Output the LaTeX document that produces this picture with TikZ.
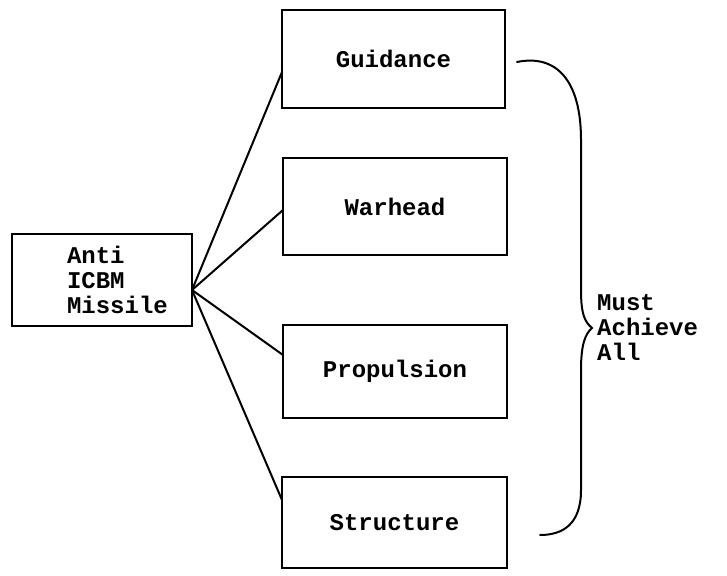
\documentclass[tikz,border=0pt]{standalone}
\usepackage{fontspec}
\setmonofont{Liberation Mono}
\newcommand\boxfont{\ttfamily\bfseries\fontsize{24}{25}\selectfont}
\tikzset{
  part/.style={draw, rectangle, line width=2pt, inner sep=0pt, font=\boxfont},
  link/.style={line width=2pt}
}
\begin{document}
\begin{tikzpicture}[x=1pt, y=-1pt]
        \useasboundingbox (0,0) rectangle (727,575);
        % the missile box
        \node[part, minimum width=180pt, minimum height=92pt, text width=70pt, align=left]
              (missile) at (102,280) {Anti\\ICBM\\Missile};
        % the four parts
        \node[part, minimum width=223pt, minimum height=98pt] (guidance)   at (393.5, 59)   {Guidance};
        \node[part, minimum width=224pt, minimum height=97pt] (warhead)    at (395,   206.5) {Warhead};
        \node[part, minimum width=224pt, minimum height=93pt] (propulsion) at (395,   371.5) {Propulsion};
        \node[part, minimum width=225pt, minimum height=91pt] (structure)  at (394.5, 522.5) {Structure};
        % coordinates where the lines meet
        \coordinate (hub)      at (192, 290);
        \coordinate (guidin)   at (282,  72);
        \coordinate (warin)    at (283, 210);
        \coordinate (propin)   at (283, 355);
        \coordinate (structin) at (282, 500);
        % drawing the lines
        \draw[link] (hub) -- (guidin);
        \draw[link] (hub) -- (warin);
        \draw[link] (hub) -- (propin);
        \draw[link] (hub) -- (structin);
        % the brace and its text
        \coordinate (bracetop) at (517, 62);
        \coordinate (bracetip) at (592, 328);
        \coordinate (bracebot) at (540, 535);
        \draw[link, line cap=round]
              (bracetop) .. controls (556,54) and (581,80) .. (581,140)
              -- (581,290) .. controls (581,315) and (585,322) .. (bracetip)
              .. controls (585,334) and (581,345) .. (581,370)
              -- (581,490) .. controls (581,525) and (562,535) .. (bracebot);
        \node[font=\boxfont, align=left, anchor=west, inner sep=0pt]
              (must) at (597, 328) {Must\\Achieve\\All};
      \end{tikzpicture}
\end{document}
